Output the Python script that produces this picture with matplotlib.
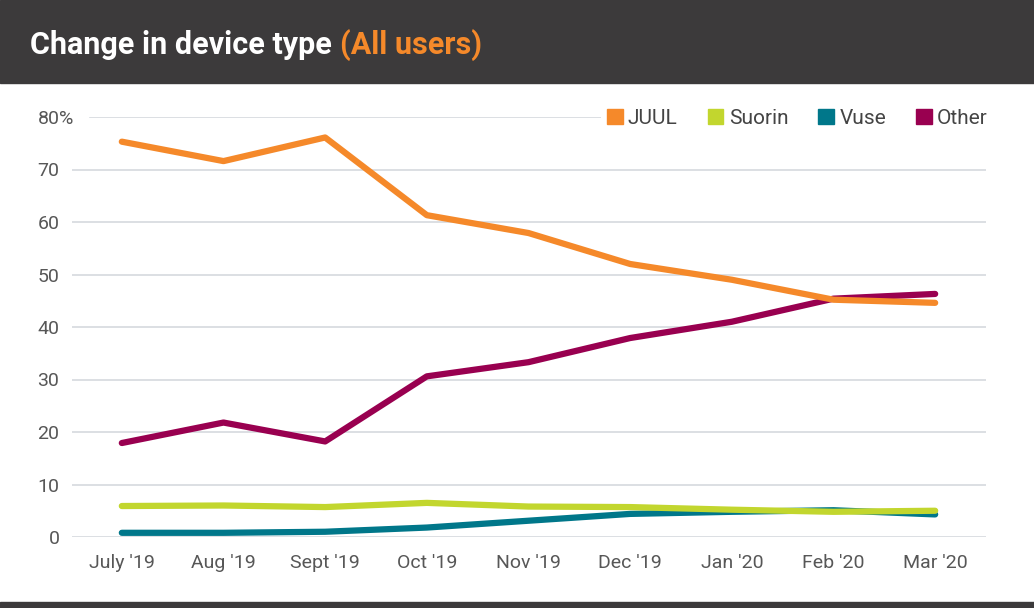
import matplotlib.pyplot as plt
from matplotlib.patches import Patch, Rectangle

months = ["July '19", "Aug '19", "Sept '19", "Oct '19", "Nov '19",
          "Dec '19", "Jan '20", "Feb '20", "Mar '20"]
juul = [75.3, 71.6, 76.1, 61.3, 57.9, 52.0, 49.0, 45.2, 44.6]
suorin = [5.9, 6.0, 5.7, 6.5, 5.8, 5.7, 5.2, 4.8, 5.0]
vuse = [0.8, 0.8, 1.0, 1.8, 3.1, 4.4, 4.8, 5.1, 4.3]
other = [17.9, 21.8, 18.2, 30.6, 33.3, 37.9, 41.0, 45.4, 46.3]
yticks = [0, 10, 20, 30, 40, 50, 60, 70, 80]

colors = {"JUUL": "#f5892a", "Suorin": "#c2d62e", "Vuse": "#00778a", "Other": "#990050"}
dark = "#3c3a3b"
grey = "#575757"

plt.rcParams['font.family'] = ['Roboto', 'DejaVu Sans']

fig = plt.figure(figsize=(10.34, 6.08), dpi=100)

# header and footer bands
fig.patches.append(Rectangle((0, 1 - 83 / 608), 1, 83 / 608, transform=fig.transFigure,
                             color=dark, zorder=0))
fig.patches.append(Rectangle((0, 0), 1, 6 / 608, transform=fig.transFigure,
                             color=dark, zorder=0))
t1 = fig.text(30 / 1034, 1 - 45 / 608, "Change in device type ", color="white",
              fontsize=22, fontweight="bold", va="center", ha="left")
fig.canvas.draw()
bb = t1.get_window_extent()
fig.text(bb.x1 / 1034, 1 - 45 / 608, "(All users)", color=colors["JUUL"],
         fontsize=22, fontweight="bold", va="center", ha="left")

ax = fig.add_axes([72 / 1034, 71 / 608, 914 / 1034, 420 / 608])
x = range(len(months))

for name, vals in [("Vuse", vuse), ("Suorin", suorin), ("Other", other), ("JUUL", juul)]:
    ax.plot(x, vals, color=colors[name], lw=4.5, solid_capstyle="round",
            solid_joinstyle="round", zorder=3)

for v in yticks:
    xmin = 0.02 if v == 80 else 0
    ax.axhline(v, xmin=xmin, color="#d5d9de", lw=1.2, zorder=1)

ax.set_xlim(-0.49, 8.5)
ax.set_ylim(0, 80)
ax.set_xticks(list(x))
ax.set_xticklabels(months)
ax.set_yticks(yticks)
ax.set_yticklabels([str(v) for v in yticks])
ax.tick_params(length=0, labelsize=14, labelcolor=grey)
ax.tick_params(axis="x", pad=12)
ax.tick_params(axis="y", pad=9)
for s in ax.spines.values():
    s.set_visible(False)

# percent sign right after the top tick label
fig.canvas.draw()
top = ax.get_yticklabels()[-1].get_window_extent()
fig.text(top.x1 / 1034, (top.y0 + top.y1) / 2 / 608, "%", ha="left", va="center",
         fontsize=14, color=grey)

handles = [Patch(color=colors[n]) for n in ["JUUL", "Suorin", "Vuse", "Other"]]
leg = fig.legend(handles, ["JUUL", "Suorin", "Vuse", "Other"], ncol=4,
                 loc="center right", bbox_to_anchor=(994 / 1034, 1 - 118 / 608),
                 borderaxespad=0,
                 frameon=True, facecolor="white", edgecolor="none", framealpha=1,
                 fontsize=15, handlelength=0.75,
                 handleheight=0.75, handletextpad=0.25, columnspacing=1.45,
                 borderpad=0.3)
leg.set_zorder(5)
for t in leg.get_texts():
    t.set_color("#444444")

fig.savefig("out.png", dpi=100)
